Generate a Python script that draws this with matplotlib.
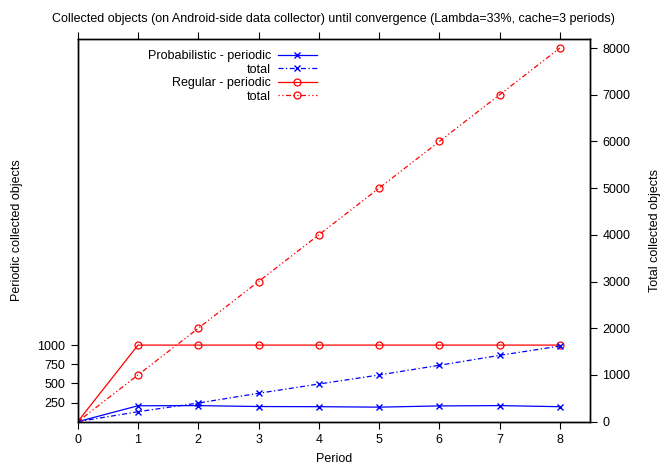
import matplotlib
matplotlib.use('Agg')
import matplotlib.pyplot as plt

plt.rcParams['font.family'] = ['Liberation Sans', 'DejaVu Sans']
plt.rcParams['font.size'] = 9

# data
periods = [0, 1, 2, 3, 4, 5, 6, 7, 8]
prob_periodic = [0, 208, 210, 198, 196, 190, 206, 210, 196]
prob_total = [0, 214, 400, 608, 807, 1000, 1208, 1420, 1620]
reg_periodic = [0, 1000, 1000, 1000, 1000, 1000, 1000, 1000, 1000]
reg_total = [0, 1000, 2000, 3000, 4000, 5000, 6000, 7000, 8000]

left_ticks = [250, 500, 750, 1000]
right_ticks = [0, 1000, 2000, 3000, 4000, 5000, 6000, 7000, 8000]

fig = plt.figure(figsize=(6.62, 4.68), dpi=100)
ax = fig.add_axes([77.7 / 662, 1 - 421.7 / 468, (590 - 77.7) / 662, (421.7 - 38.7) / 468])
ax2 = ax.twinx()

dashdot = (0, (4, 2, 1, 2))
dotdash = (0, (1, 2, 1, 2, 4, 2))

l1, = ax.plot(periods, prob_periodic, color='blue', lw=0.9, marker='x', ms=4.5, mew=1,
              label='Probabilistic - periodic')
l3, = ax.plot(periods, reg_periodic, color='red', lw=0.9, marker='o', ms=5, mew=0.9,
              mfc='none', label='Regular - periodic')
l2, = ax2.plot(periods, prob_total, color='blue', lw=0.9, ls=dashdot, marker='x', ms=4.5, mew=1,
               label='total')
l4, = ax2.plot(periods, reg_total, color='red', lw=0.9, ls=dotdash, marker='o', ms=5, mew=0.9,
               mfc='none', label='total')

ax.set_xlim(0, 8.5)
ax.set_ylim(0, 5000)
ax2.set_ylim(0, 8200)
ax.set_xticks(periods)
ax.set_yticks(left_ticks)
ax2.set_yticks(right_ticks)

ax.tick_params(direction='out', length=5, width=0.8, top=True, labeltop=False, pad=4)
ax2.tick_params(direction='out', length=5, width=0.8, pad=4)
for a in (ax, ax2):
    for s in a.spines.values():
        s.set_linewidth(1.0)

ax.set_xlabel('Period', labelpad=5)
ax.set_ylabel('Periodic collected objects', labelpad=10)
ax2.set_ylabel('Total collected objects', labelpad=13)
ax.set_title('Collected objects (on Android-side data collector) until convergence (Lambda=33%, cache=3 periods)',
             fontsize=9, pad=12)

ax2.legend(handles=[l1, l2, l3, l4], loc='upper right', bbox_to_anchor=(323 / 662, 1 - 44 / 468),
           bbox_transform=fig.transFigure, frameon=False, markerfirst=False, borderpad=0,
           handlelength=3.1, handletextpad=0.55, labelspacing=0.12)

fig.savefig('out.png', dpi=100)
